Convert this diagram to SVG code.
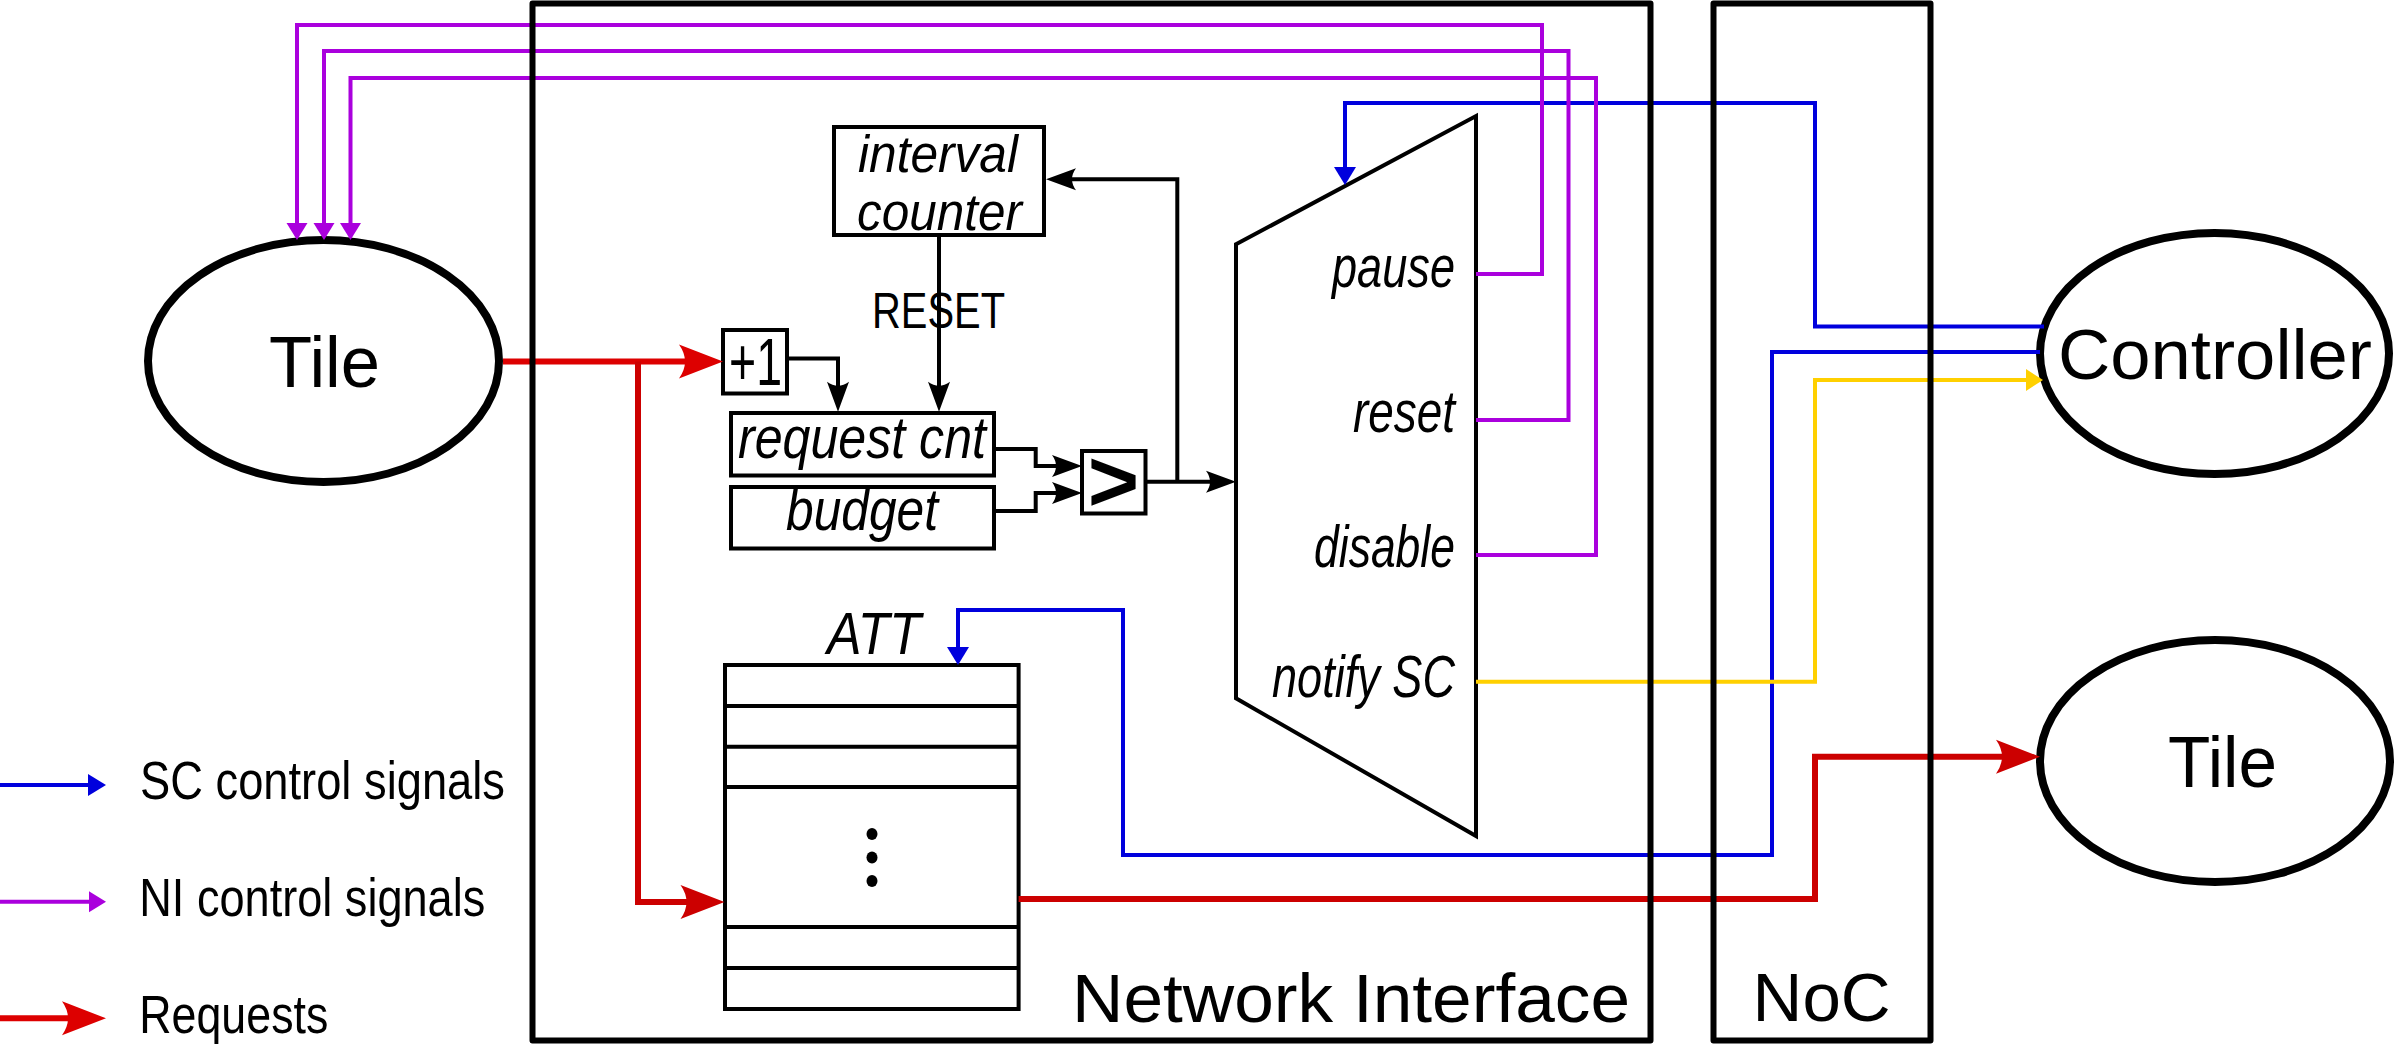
<svg xmlns="http://www.w3.org/2000/svg" width="2394" height="1044" viewBox="0 0 2394 1044">
<style>
text{font-family:"Liberation Sans",Arial,sans-serif;fill:#000}
.it{font-style:italic;font-size:60px}
.big{font-size:72px}
.box{fill:#fff;stroke:#000;stroke-width:4;stroke-linejoin:miter}
.ell{fill:#fff;stroke:#000;stroke-width:8}
.cont{fill:none;stroke:#000;stroke-width:6;stroke-linejoin:round}
.row{stroke:#000;stroke-width:4}
.k{fill:none;stroke:#000;stroke-width:4}
.r1{fill:none;stroke:#dd0000;stroke-width:6}
.r2{fill:none;stroke:#cc0000;stroke-width:6}
.b{fill:none;stroke:#0000dd;stroke-width:4}
.p{fill:none;stroke:#aa00dd;stroke-width:4}
.y{fill:none;stroke:#ffd000;stroke-width:4}
</style>
<defs>
<marker id="ar1" markerUnits="userSpaceOnUse" orient="auto" markerWidth="44" markerHeight="34" refX="16" refY="17" overflow="visible"><path d="M0,0 L44,17 L0,34 Q12,17 0,0 Z" fill="#dd0000"/></marker>
<marker id="ar2" markerUnits="userSpaceOnUse" orient="auto" markerWidth="44" markerHeight="34" refX="16" refY="17" overflow="visible"><path d="M0,0 L44,17 L0,34 Q12,17 0,0 Z" fill="#cc0000"/></marker>
<marker id="ak" markerUnits="userSpaceOnUse" orient="auto" markerWidth="30" markerHeight="22" refX="14" refY="11" overflow="visible"><path d="M0,0 L30,11 L0,22 Q8,11 0,0 Z" fill="#000"/></marker>
<marker id="ab" markerUnits="userSpaceOnUse" orient="auto" markerWidth="18" markerHeight="22" refX="4" refY="11" overflow="visible"><path d="M0,0 L18,11 L0,22 Z" fill="#0000dd"/></marker>
<marker id="ap" markerUnits="userSpaceOnUse" orient="auto" markerWidth="17" markerHeight="21" refX="4" refY="10.5" overflow="visible"><path d="M0,0 L17,10.5 L0,21 Z" fill="#aa00dd"/></marker>
<marker id="ay" markerUnits="userSpaceOnUse" orient="auto" markerWidth="17" markerHeight="22" refX="4" refY="11" overflow="visible"><path d="M0,0 L17,11 L0,22 Z" fill="#ffd000"/></marker>
</defs>

<g id="tile-left">
<ellipse class="ell" cx="323.5" cy="361" rx="175.5" ry="121"/>
<text class="big" x="269" y="387" textLength="111" lengthAdjust="spacingAndGlyphs">Tile</text>
</g>
<g id="controller">
<ellipse class="ell" cx="2214.5" cy="353.5" rx="174.5" ry="120.5"/>
<text x="2058" y="379" font-size="71" textLength="314" lengthAdjust="spacingAndGlyphs">Controller</text>
</g>
<g id="tile-right">
<ellipse class="ell" cx="2215" cy="761" rx="175" ry="121"/>
<text class="big" x="2168" y="787" textLength="109" lengthAdjust="spacingAndGlyphs">Tile</text>
</g>

<g id="interval-counter">
<rect class="box" x="834" y="127" width="210" height="108"/>
<text class="it" font-size="51" style="font-size:51px"><tspan x="858" y="172" textLength="160" lengthAdjust="spacingAndGlyphs">interval</tspan><tspan x="857" y="229.5" textLength="165" lengthAdjust="spacingAndGlyphs">counter</tspan></text>
</g>
<g id="plus-one">
<rect class="box" x="723" y="330" width="64" height="63.5"/>
<text x="729" y="385" font-size="66" textLength="53" lengthAdjust="spacingAndGlyphs">+1</text>
</g>
<g id="request-cnt">
<rect class="box" x="731" y="413" width="263" height="62.5"/>
<text class="it" x="738" y="458.3" textLength="248" lengthAdjust="spacingAndGlyphs">request cnt</text>
</g>
<g id="budget">
<rect class="box" x="731" y="487" width="263" height="61.5"/>
<text class="it" x="786" y="530" textLength="152" lengthAdjust="spacingAndGlyphs">budget</text>
</g>
<g id="comparator">
<rect class="box" x="1082" y="451" width="63.5" height="62.5"/>
<text x="1113.5" y="511" font-size="88" font-weight="bold" text-anchor="middle">&gt;</text>
</g>
<g id="mux">
<path class="box" d="M1236,244.3 L1476,116 L1476,836 L1236,698.3 Z"/>
<text class="it" x="1332" y="286.7" textLength="123" lengthAdjust="spacingAndGlyphs">pause</text>
<text class="it" x="1353" y="431.7" textLength="102" lengthAdjust="spacingAndGlyphs">reset</text>
<text class="it" x="1314" y="566.7" textLength="141" lengthAdjust="spacingAndGlyphs">disable</text>
<text class="it" x="1272" y="696.7" textLength="183" lengthAdjust="spacingAndGlyphs">notify SC</text>
</g>
<g id="att">
<text class="it" x="827" y="654" textLength="94" lengthAdjust="spacingAndGlyphs">ATT</text>
<rect class="box" x="725" y="665" width="293.6" height="344"/>
<line class="row" x1="725" y1="706" x2="1018.6" y2="706"/>
<line class="row" x1="725" y1="746.7" x2="1018.6" y2="746.7"/>
<line class="row" x1="725" y1="787" x2="1018.6" y2="787"/>
<line class="row" x1="725" y1="927" x2="1018.6" y2="927"/>
<line class="row" x1="725" y1="968" x2="1018.6" y2="968"/>
<ellipse cx="872" cy="834" rx="5.5" ry="6"/>
<ellipse cx="872" cy="857.5" rx="5.5" ry="6"/>
<ellipse cx="872" cy="881" rx="5.5" ry="6"/>
</g>

<g id="connectors">
<path class="r1" d="M503,361.5 H695" marker-end="url(#ar1)"/>
<path class="r2" d="M638,361.5 V902 H696.5" marker-end="url(#ar2)"/>
<path class="r2" d="M1018.6,899 H1815 V756.7 H2012" marker-end="url(#ar2)"/>
<path class="k" d="M787,358.5 H838 V395.7" marker-end="url(#ak)"/>
<path class="k" d="M939,235 V395.7" marker-end="url(#ak)"/>
<text x="872" y="328.3" font-size="50" textLength="133" lengthAdjust="spacingAndGlyphs">RESET</text>
<path class="k" d="M994,449 H1035.7 V466 H1066" marker-end="url(#ak)"/>
<path class="k" d="M994,511 H1035.7 V493 H1066" marker-end="url(#ak)"/>
<path class="k" d="M1145.7,481.7 H1220" marker-end="url(#ak)"/>
<path class="k" d="M1177.3,481.7 V179.3 H1062" marker-end="url(#ak)"/>
<path class="b" d="M2044,326.5 H1815 V103 H1345 V171" marker-end="url(#ab)"/>
<path class="b" d="M2040,352 H1772 V855 H1123 V610 H958 V651" marker-end="url(#ab)"/>
<path class="y" d="M1476,681.7 H1815 V380 H2030" marker-end="url(#ay)"/>
<path class="p" d="M1476,274 H1542 V25 H297 V227" marker-end="url(#ap)"/>
<path class="p" d="M1476,420 H1568.5 V51 H324 V227" marker-end="url(#ap)"/>
<path class="p" d="M1476,555 H1596 V78 H350.5 V227" marker-end="url(#ap)"/>
</g>

<g id="network-interface">
<rect class="cont" x="532.5" y="3.5" width="1118" height="1037"/>
<text x="1072" y="1021.7" font-size="68" textLength="558" lengthAdjust="spacingAndGlyphs">Network Interface</text>
</g>
<g id="noc">
<rect class="cont" x="1713.5" y="3.5" width="217" height="1037"/>
<text x="1752.6" y="1020.7" font-size="68" textLength="138" lengthAdjust="spacingAndGlyphs">NoC</text>
</g>

<g id="legend">
<path class="b" d="M0,785 H92" marker-end="url(#ab)"/>
<text x="140" y="799.3" font-size="53" textLength="365" lengthAdjust="spacingAndGlyphs">SC control signals</text>
<path class="p" d="M0,901.7 H93" marker-end="url(#ap)"/>
<text x="139.3" y="915.7" font-size="53" textLength="346" lengthAdjust="spacingAndGlyphs">NI control signals</text>
<path class="r1" d="M0,1018.3 H78" marker-end="url(#ar1)"/>
<text x="139.3" y="1033.3" font-size="53" textLength="189" lengthAdjust="spacingAndGlyphs">Requests</text>
</g>
</svg>
